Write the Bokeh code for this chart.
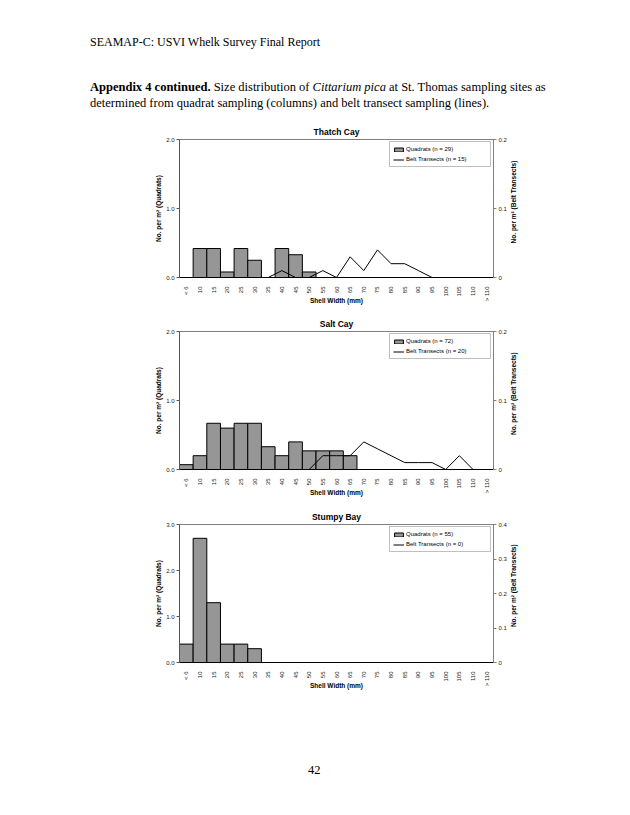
import math
from bokeh.plotting import figure
from bokeh.models import (FactorRange, Range1d, LinearAxis, FixedTicker, Legend,
                          LegendItem, Div, NumeralTickFormatter)
from bokeh.core.properties import value
from bokeh.layouts import column, row
from bokeh.embed import file_html
from bokeh.resources import INLINE

nan = float("nan")

categories = ["< 6", "10", "15", "20", "25", "30", "35", "40", "45", "50", "55",
              "60", "65", "70", "75", "80", "85", "90", "95", "100", "105", "110", "> 110"]

# Thatch Cay
thatch_quadrats = [0, 0.42, 0.42, 0.08, 0.42, 0.25, 0, 0.42, 0.33, 0.08, 0,
                   0, 0, 0, 0, 0, 0, 0, 0, 0, 0, 0, 0]
thatch_belt = [nan, nan, nan, nan, nan, nan, 0, 0.01, 0, 0, 0.01,
               0, 0.03, 0.01, 0.04, 0.02, 0.02, 0.01, 0, 0, 0, 0, 0]

# Salt Cay
salt_quadrats = [0.07, 0.2, 0.67, 0.6, 0.67, 0.67, 0.33, 0.2, 0.4, 0.27, 0.27,
                 0.27, 0.2, 0, 0, 0, 0, 0, 0, 0, 0, 0, 0]
salt_belt = [nan, nan, nan, nan, nan, nan, nan, nan, nan, 0, 0.02,
             0.02, 0.02, 0.04, 0.03, 0.02, 0.01, 0.01, 0.01, 0, 0.02, 0, 0]

# Stumpy Bay
stumpy_quadrats = [0.4, 2.7, 1.3, 0.4, 0.4, 0.3, 0, 0, 0, 0, 0,
                   0, 0, 0, 0, 0, 0, 0, 0, 0, 0, 0, 0]
stumpy_belt = [0] * 23

titles = ["Thatch Cay", "Salt Cay", "Stumpy Bay"]
quad_labels = ["Quadrats (n = 29)", "Quadrats (n = 72)", "Quadrats (n = 55)"]
belt_labels = ["Belt Transects (n = 15)", "Belt Transects (n = 20)", "Belt Transects (n = 0)"]
left_ticks = [[0, 1, 2], [0, 1, 2], [0, 1, 2, 3]]
right_ticks = [[0, 0.1, 0.2], [0, 0.1, 0.2], [0, 0.1, 0.2, 0.3, 0.4]]
left_title = "No. per m² (Quadrats)"
right_title = "No. per m² (Belt Transects)"
x_title = "Shell Width (mm)"

SANS = "Liberation Sans"
FRAME_W = 314
FRAME_H = 138
LEFT = 179
CHART_W = 509


def style_axis(ax, label):
    ax.axis_label = label
    ax.axis_label_text_font = SANS
    ax.axis_label_text_font_size = "6.5px"
    ax.axis_label_text_font_style = "bold"
    ax.axis_label_text_color = "black"
    ax.major_label_text_font = SANS
    ax.major_label_text_font_size = "6px"
    ax.major_label_text_color = "#222222"
    ax.minor_tick_line_color = None


def make_chart(title, quads, belt, qlabel, blabel, lticks, rticks, top, bottom):
    height = top + FRAME_H + bottom
    p = figure(width=CHART_W, height=height,
               x_range=FactorRange(factors=categories, range_padding=0),
               y_range=Range1d(lticks[0], lticks[-1]),
               min_border_left=LEFT, min_border_right=CHART_W - LEFT - FRAME_W,
               min_border_top=top, min_border_bottom=bottom,
               output_backend="svg", toolbar_location=None,
               background_fill_color="white", border_fill_color="white",
               outline_line_color="#808080", outline_line_width=1, margin=0)
    p.extra_y_ranges = {"right": Range1d(rticks[0], rticks[-1])}
    p.title.text = title
    p.title.align = "center"
    p.title.text_font = SANS
    p.title.text_font_size = "8.5px"
    p.title.text_font_style = "bold"
    p.title.text_color = "black"
    p.title.standoff = 5
    p.title.offset = 0
    p.xgrid.visible = False
    p.ygrid.visible = False

    bars = p.vbar(x=categories, top=quads, width=1, fill_color="#969696",
                  line_color="black", line_width=1)
    line = p.line(x=categories, y=belt, y_range_name="right",
                  line_color="black", line_width=1)

    # left axis
    ya = p.yaxis[0]
    ya.ticker = FixedTicker(ticks=lticks)
    ya.formatter = NumeralTickFormatter(format="0.0")
    style_axis(ya, left_title)
    ya.axis_label_standoff = 1
    ya.major_label_standoff = 2
    ya.major_tick_in = 0
    ya.major_tick_out = 3
    ya.axis_line_color = "#555555"
    ya.major_tick_line_color = "#555555"

    # right axis
    ra = LinearAxis(y_range_name="right", ticker=FixedTicker(ticks=rticks),
                    formatter=NumeralTickFormatter(format="0.[0]"))
    style_axis(ra, None)
    ra.major_label_standoff = 2
    ra.major_tick_in = 0
    ra.major_tick_out = 3
    ra.axis_line_color = "#808080"
    ra.major_tick_line_color = "#808080"
    p.add_layout(ra, "right")

    # x axis
    xa = p.xaxis[0]
    style_axis(xa, x_title)
    xa.axis_label_standoff = -7
    xa.major_label_orientation = math.pi / 2
    xa.major_label_standoff = 3
    xa.major_tick_line_color = None
    xa.axis_line_color = "black"

    legend = Legend(items=[LegendItem(label=qlabel, renderers=[bars]),
                           LegendItem(label=blabel, renderers=[line])],
                    location=(210, 110))
    legend.border_line_color = "#808080"
    legend.border_line_width = 1
    legend.background_fill_color = "white"
    legend.background_fill_alpha = 1
    legend.label_text_font = SANS
    legend.label_text_font_size = "6px"
    legend.label_text_color = "black"
    legend.glyph_width = 11
    legend.glyph_height = 5
    legend.label_height = 8
    legend.label_width = 81
    legend.label_standoff = 2
    legend.padding = 3
    legend.spacing = 2
    legend.margin = 0
    p.add_layout(legend)

    # side strip carrying the right-hand axis title (reads bottom-to-top)
    side_w = 630 - CHART_W
    s = figure(width=side_w, height=height, x_range=Range1d(0, side_w),
               y_range=Range1d(0, height), x_axis_type=None, y_axis_type=None,
               min_border=0, output_backend="svg", toolbar_location=None,
               outline_line_color=None, background_fill_color="white",
               border_fill_color="white", margin=0)
    s.xgrid.visible = False
    s.ygrid.visible = False
    s.text(x=[513 - CHART_W], y=[bottom + FRAME_H / 2], text=[right_title],
           angle=math.pi / 2, text_align="center", text_baseline="middle",
           text_font=value(SANS), text_font_size="6.5px", text_font_style="bold",
           text_color="black")
    return row(p, s, spacing=0, margin=0)


header_html = (
    '<div style="position:relative;width:630px;height:121px;'
    'font-family:\'Liberation Serif\',serif;color:#000;">'
    '<div style="position:absolute;left:90px;top:35px;font-size:12px;line-height:14px;'
    'white-space:nowrap;">SEAMAP-C: USVI Whelk Survey Final Report</div>'
    '<div style="position:absolute;left:90px;top:79px;font-size:12.5px;line-height:16px;'
    'white-space:nowrap;"><b>Appendix 4 continued.</b> Size distribution of '
    '<i>Cittarium pica</i> at St. Thomas sampling sites as<br>'
    'determined from quadrat sampling (columns) and belt transect sampling (lines).</div>'
    '</div>'
)
header = Div(text=header_html, width=630, height=121, margin=0)

footer_html = (
    '<div style="position:relative;width:630px;height:113px;'
    'font-family:\'Liberation Serif\',serif;color:#000;">'
    '<div style="position:absolute;left:308px;top:61px;font-size:12.5px;line-height:14px;">42</div>'
    '</div>'
)
footer = Div(text=footer_html, width=630, height=113, margin=0)

data = [(thatch_quadrats, thatch_belt), (salt_quadrats, salt_belt), (stumpy_quadrats, stumpy_belt)]
borders = [(18, 36), (18, 37), (18, 40)]
charts = []
for i in range(3):
    charts.append(make_chart(titles[i], data[i][0], data[i][1], quad_labels[i], belt_labels[i],
                             left_ticks[i], right_ticks[i], borders[i][0], borders[i][1]))

layout = column(header, *charts, footer, spacing=0, margin=0)
layout.styles = {"background-color": "white"}

open("out.html", "w").write(file_html(layout, INLINE))
